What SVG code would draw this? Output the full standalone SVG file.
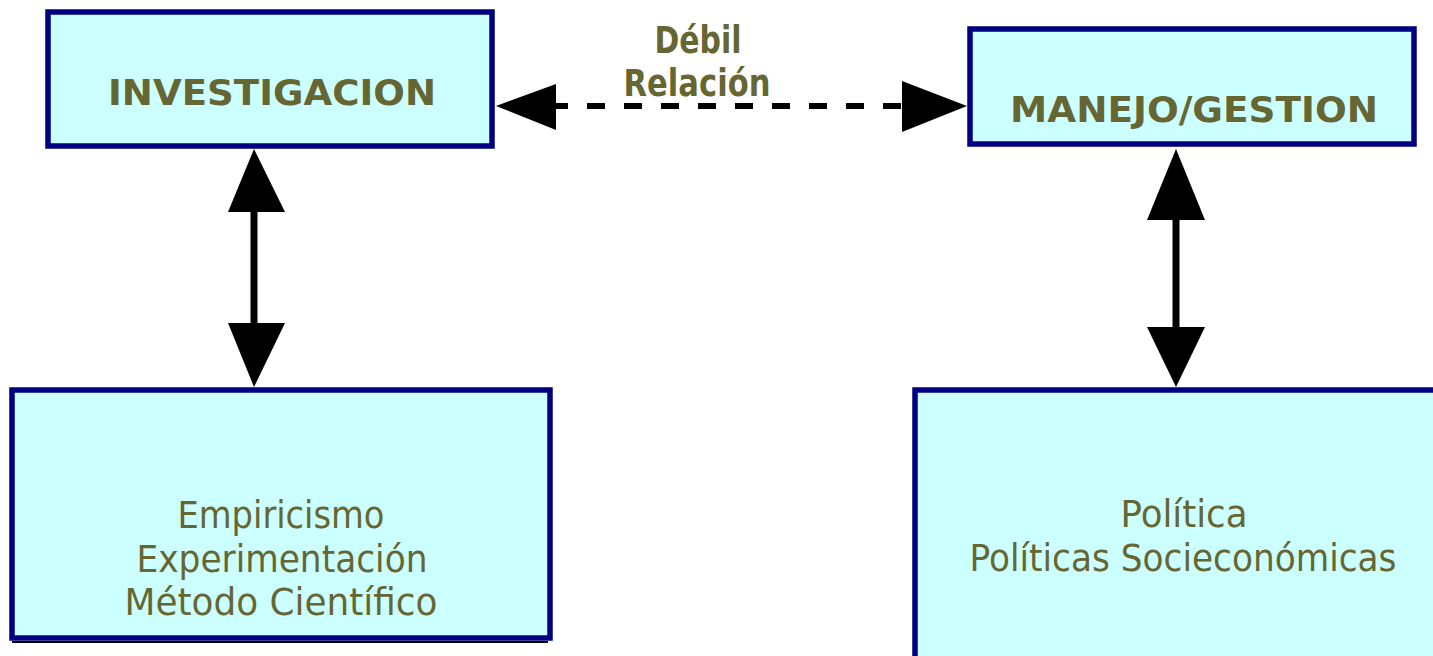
<svg xmlns="http://www.w3.org/2000/svg" width="1433" height="656" viewBox="0 0 1433 656">
<style>
.box{fill:#CCFFFF;stroke:#000080;stroke-width:5.5}
.t{font-family:"Comic Sans MS","DejaVu Sans","Open Sans",sans-serif;fill:#666633;text-anchor:middle}
.b{font-weight:bold;font-size:35px}
.lbl{font-weight:bold;font-size:37px}
.n{font-size:37px}
.line{stroke:#000;stroke-width:7;fill:none}
.dash{stroke:#000;stroke-width:6;fill:none;stroke-dasharray:18 19}
.head{fill:#000}
</style>
<rect width="1433" height="656" fill="#fff"/>
<g id="connectors">
<line class="dash" x1="550" y1="106" x2="905" y2="106"/>
<polygon class="head" points="496,106 556,84 556,130"/>
<polygon class="head" points="967,106 902,81 902,132"/>
<line class="line" x1="254" y1="205" x2="254" y2="330"/>
<polygon class="head" points="254,149 228,212 285,212"/>
<polygon class="head" points="254,387 228,323 285,323"/>
<line class="line" x1="1176" y1="215" x2="1176" y2="335"/>
<polygon class="head" points="1176,149 1147,220 1205,220"/>
<polygon class="head" points="1176,387 1147,327 1205,327"/>
<text class="t lbl" x="698" y="53" textLength="87" lengthAdjust="spacingAndGlyphs">Débil</text>
<text class="t lbl" x="697" y="96" textLength="147" lengthAdjust="spacingAndGlyphs">Relación</text>
</g>
<g id="investigacion">
<rect class="box" x="48" y="12" width="444" height="134"/>
<text class="t b" x="272" y="105" textLength="328" lengthAdjust="spacingAndGlyphs">INVESTIGACION</text>
</g>
<g id="manejo">
<rect class="box" x="970" y="29" width="444" height="115"/>
<text class="t b" x="1194" y="122" textLength="368" lengthAdjust="spacingAndGlyphs">MANEJO/GESTION</text>
</g>
<g id="investigacion-detalle">
<line x1="12" y1="642" x2="548" y2="642" stroke="#000" stroke-width="2"/>
<rect class="box" x="12" y="390" width="538" height="248"/>
<text class="t n" x="281" y="528" textLength="207" lengthAdjust="spacingAndGlyphs">Empiricismo</text>
<text class="t n" x="282" y="572" textLength="291" lengthAdjust="spacingAndGlyphs">Experimentación</text>
<text class="t n" x="281" y="615" textLength="313" lengthAdjust="spacingAndGlyphs">Método Científico</text>
</g>
<g id="manejo-detalle">
<rect class="box" x="915" y="390" width="530" height="280"/>
<text class="t n" x="1184" y="527" textLength="127" lengthAdjust="spacingAndGlyphs">Política</text>
<text class="t n" x="1183" y="571" textLength="427" lengthAdjust="spacingAndGlyphs">Políticas Socieconómicas</text>
</g>
</svg>
